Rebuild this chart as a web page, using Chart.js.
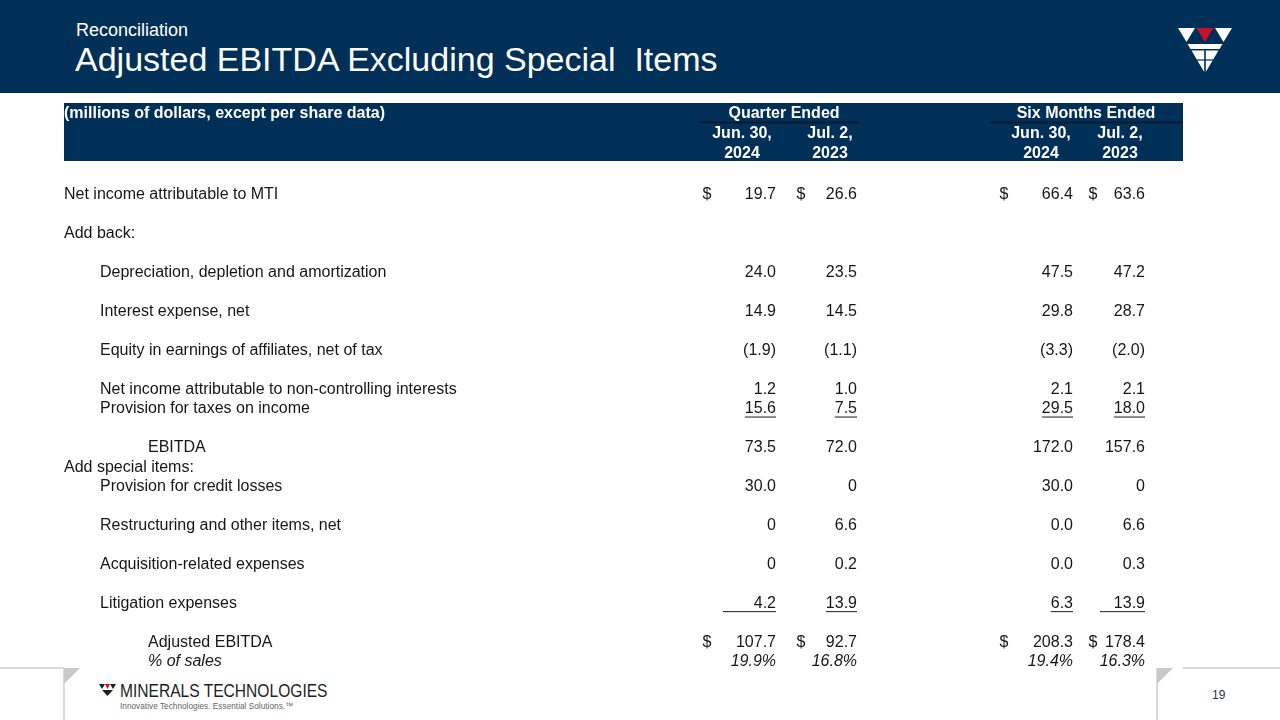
<!DOCTYPE html>
<html>
<head>
<meta charset="utf-8">
<script src="https://cdn.jsdelivr.net/npm/chart.js@4.4.1/dist/chart.umd.min.js"></script>
<style>
html,body{margin:0;padding:0;background:#fff;}
#slide{position:relative;width:1280px;height:720px;overflow:hidden;font-family:"Liberation Sans",Arial,sans-serif;background:#fff;}
#band{position:absolute;left:0;top:0;width:1280px;height:93px;background:#002f57;}
#sub{position:absolute;left:76px;top:20px;color:#fff;font-size:18px;white-space:nowrap;}
#title{position:absolute;left:75px;top:40px;color:#fff;font-size:34px;white-space:pre;}
#logo{position:absolute;left:1178px;top:28px;}
#chart{position:absolute;left:0;top:0;}
#footer{position:absolute;left:0;top:0;}
#brand{position:absolute;left:120px;top:680px;font-size:19px;color:#1e1e1e;white-space:nowrap;transform:scaleX(0.82);transform-origin:0 0;}
#tag{position:absolute;left:120px;top:701px;font-size:9px;color:#666;white-space:nowrap;transform:scaleX(0.92);transform-origin:0 0;}
#page{position:absolute;left:1212px;top:688px;font-size:12px;color:#2b3440;}
</style>
</head>
<body>
<div id="slide">
  <div id="band"></div>
  <div id="sub">Reconciliation</div>
  <div id="title">Adjusted EBITDA Excluding Special  Items</div>
  <svg id="logo" width="54" height="44" viewBox="0 0 54 44">
    <polygon points="0,0 17,0 8.5,14" fill="#fff"/>
    <polygon points="18.5,0 35.5,0 27,14" fill="#c8102e"/>
    <polygon points="37,0 54,0 45.5,14" fill="#fff"/>
    <polygon points="9.5,16 44.5,16 41.5,21 12.5,21" fill="#fff"/>
    <polygon points="13.5,22.5 26.2,22.5 26.2,44" fill="#fff"/>
    <polygon points="27.8,22.5 40.5,22.5 27.8,44" fill="#fff"/>
    <line x1="12" y1="32" x2="42" y2="32" stroke="#002f57" stroke-width="1.2"/>
  </svg>
  <svg id="footer" width="1280" height="720">
    <line x1="0" y1="668" x2="64" y2="668" stroke="#cfcfcf" stroke-width="1.5"/>
    <line x1="64" y1="668" x2="64" y2="720" stroke="#cfcfcf" stroke-width="1.5"/>
    <polygon points="64,668 80,668 64,684" fill="#c9c9c9"/>
    <line x1="1183" y1="668" x2="1280" y2="668" stroke="#cfcfcf" stroke-width="1.5"/>
    <line x1="1157" y1="668" x2="1157" y2="720" stroke="#cfcfcf" stroke-width="1.5"/>
    <polygon points="1157,668 1173,668 1157,684" fill="#c9c9c9"/>
    <polygon points="99,684 105,684 102,689" fill="#231f20"/>
    <polygon points="105,684 110,684 107.5,689" fill="#c8102e"/>
    <polygon points="110,684 116,684 113,689" fill="#231f20"/>
    <polygon points="102,690 113,690 107.5,696" fill="#231f20"/>
  </svg>
  <div id="brand">MINERALS TECHNOLOGIES</div>
  <div id="tag">Innovative Technologies. Essential Solutions.™</div>
  <div id="page">19</div>
  <canvas id="chart" width="1280" height="720"></canvas>
</div>
<script>
// ---------- DATA ----------
const unitsLabel = '(millions of dollars, except per share data)';
const groupLabels = ['Quarter Ended', 'Six Months Ended'];
const periodLabels = [['Jun. 30,', '2024'], ['Jul. 2,', '2023'], ['Jun. 30,', '2024'], ['Jul. 2,', '2023']];

const rowLabels = [
  'Net income attributable to MTI', '',
  'Add back:', '',
  'Depreciation, depletion and amortization', '',
  'Interest expense, net', '',
  'Equity in earnings of affiliates, net of tax', '',
  'Net income attributable to non-controlling interests',
  'Provision for taxes on income', '',
  'EBITDA',
  'Add special items:',
  'Provision for credit losses', '',
  'Restructuring and other items, net', '',
  'Acquisition-related expenses', '',
  'Litigation expenses', '',
  'Adjusted EBITDA',
  '% of sales'
];
const rowIndent = [0,0,0,0,1,0,1,0,1,0,1,1,0,2,0,1,0,1,0,1,0,1,0,2,2];

const quarter2024 = [19.7,null,null,null,24.0,null,14.9,null,-1.9,null,1.2,15.6,null,73.5,null,30.0,null,0,null,0,null,4.2,null,107.7,19.9];
const quarter2023 = [26.6,null,null,null,23.5,null,14.5,null,-1.1,null,1.0,7.5,null,72.0,null,0,null,6.6,null,0.2,null,13.9,null,92.7,16.8];
const sixMonths2024 = [66.4,null,null,null,47.5,null,29.8,null,-3.3,null,2.1,29.5,null,172.0,null,30.0,null,0.0,null,0.0,null,6.3,null,208.3,19.4];
const sixMonths2023 = [63.6,null,null,null,47.2,null,28.7,null,-2.0,null,2.1,18.0,null,157.6,null,0,null,6.6,null,0.3,null,13.9,null,178.4,16.3];
const seriesValues = [quarter2024, quarter2023, sixMonths2024, sixMonths2023];

const dollarRows = [0, 23];
const underlineRows = [11, 21];
const percentRows = [24];
const zeroWithDecimal = [false, false, true, false];

// ---------- LAYOUT / STYLE ----------
const NAVY = '#002f57';
const TXT = '#161616';
const FONT = '"Liberation Sans", Arial, sans-serif';
const indentPx = [64, 100, 148];
const colRight = [776, 857, 1073, 1145];
const dollarX = [707, 801, 1004, 1093];
const periodCenter = [742, 830, 1041, 1120];
const groupCenter = [784, 1086];
const groupRule = [[700, 858], [990, 1183]];
const litigationRuleMin = [53, 0, 0, 45];

function fmt(v, c, row) {
  if (percentRows.includes(row)) return v.toFixed(1) + '%';
  if (v === 0) return zeroWithDecimal[c] ? '0.0' : '0';
  if (v < 0) return '(' + Math.abs(v).toFixed(1) + ')';
  return v.toFixed(1);
}

const tablePlugin = {
  id: 'tablePlugin',
  afterDraw(chart) {
    const ctx = chart.ctx;
    const ys = chart.scales.y;
    ctx.save();
    // header band
    ctx.fillStyle = NAVY;
    ctx.fillRect(64, 103, 1119, 58);
    ctx.fillStyle = '#fff';
    ctx.font = 'bold 16px ' + FONT;
    ctx.textBaseline = 'middle';
    ctx.textAlign = 'left';
    ctx.fillText(unitsLabel, 64, 114);
    ctx.textAlign = 'center';
    groupLabels.forEach((g, i) => {
      ctx.fillStyle = '#fff';
      ctx.fillText(g, groupCenter[i], 114);
      ctx.strokeStyle = '#0b1620';
      ctx.lineWidth = 1.5;
      ctx.beginPath();
      ctx.moveTo(groupRule[i][0], 122.5);
      ctx.lineTo(groupRule[i][1], 122.5);
      ctx.stroke();
    });
    periodLabels.forEach((p, i) => {
      ctx.fillText(p[0], periodCenter[i], 134);
      ctx.fillText(p[1], periodCenter[i], 154);
    });

    // row labels
    ctx.fillStyle = TXT;
    ctx.textAlign = 'left';
    rowLabels.forEach((lab, i) => {
      if (!lab) return;
      const py = ys.getPixelForValue(i);
      ctx.font = (percentRows.includes(i) ? 'italic ' : '') + '16px ' + FONT;
      ctx.fillText(lab, indentPx[rowIndent[i]], py);
    });

    // values
    seriesValues.forEach((col, c) => {
      col.forEach((v, i) => {
        if (v === null) return;
        const py = ys.getPixelForValue(i);
        ctx.font = (percentRows.includes(i) ? 'italic ' : '') + '16px ' + FONT;
        ctx.textAlign = 'right';
        ctx.fillStyle = TXT;
        const t = fmt(v, c, i);
        ctx.fillText(t, colRight[c], py);
        if (dollarRows.includes(i)) {
          ctx.textAlign = 'center';
          ctx.fillText('$', dollarX[c], py);
        }
        if (underlineRows.includes(i)) {
          let w = ctx.measureText(t).width;
          if (i === 21) w = Math.max(w, litigationRuleMin[c]);
          ctx.strokeStyle = '#1a1a1a';
          ctx.lineWidth = 1;
          ctx.beginPath();
          ctx.moveTo(colRight[c] - w, py + 8);
          ctx.lineTo(colRight[c], py + 8);
          ctx.stroke();
        }
      });
    });
    ctx.restore();
  }
};

new Chart(document.getElementById('chart').getContext('2d'), {
  type: 'scatter',
  data: { labels: rowLabels, datasets: [] },
  options: {
    responsive: false,
    animation: false,
    events: [],
    layout: { padding: { top: 195, bottom: 58, left: 0, right: 0 } },
    scales: {
      x: { type: 'linear', display: false, min: 0, max: 1 },
      y: { type: 'category', labels: rowLabels, offset: false, display: false, grid: { display: false } }
    },
    plugins: { legend: { display: false }, tooltip: { enabled: false } }
  },
  plugins: [tablePlugin]
});
</script>
</body>
</html>
